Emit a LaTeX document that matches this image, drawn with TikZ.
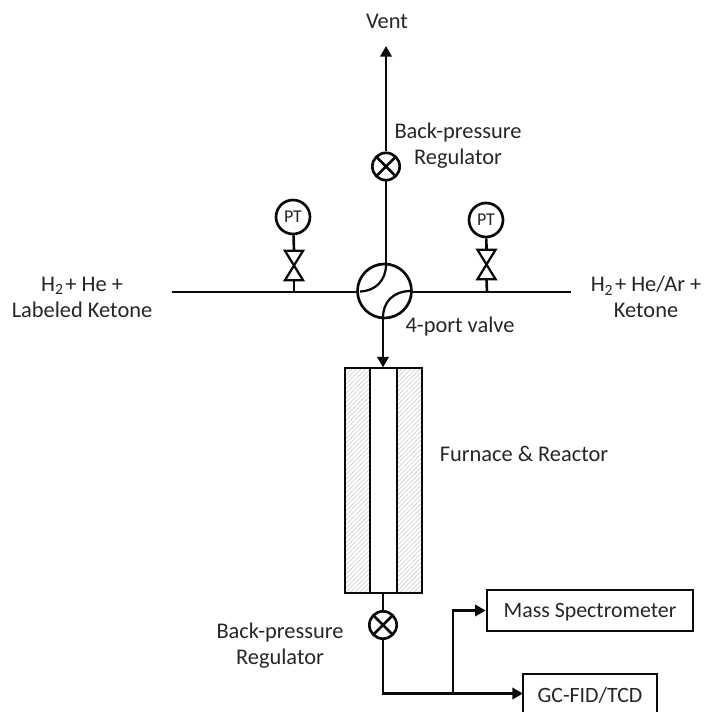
\documentclass[tikz,border=0pt]{standalone}
\usepackage{fontspec}
\setmainfont{Carlito}
\usetikzlibrary{arrows.meta,patterns.meta}
\definecolor{ink}{HTML}{0A0A0A}
\definecolor{txt}{HTML}{262626}
\tikzset{
  line/.style={draw=ink,line width=2pt},
  flow/.style={line,-{Triangle[length=8pt,width=8.5pt]}},
  label/.style={text=txt,font=\fontsize{16.8}{19.5}\selectfont,align=center,inner sep=0pt},
  gauge/.style={circle,line,fill=white,minimum size=25.5pt,inner sep=0pt,text=txt,font=\fontsize{13.5}{14}\selectfont},
  regulator/.style={circle,line,minimum size=20.5pt,inner sep=0pt,
    path picture={\draw[ink,line width=2pt] (path picture bounding box.north west)--(path picture bounding box.south east)
      (path picture bounding box.north east)--(path picture bounding box.south west);}},
  shutoff/.style={minimum width=13.5pt,minimum height=22pt,inner sep=0pt,outer sep=0pt},
  box/.style={line,inner sep=0pt,text=txt,text height=11pt,text depth=1.2pt,font=\fontsize{16.4}{18}\selectfont},
  hatched/.style={pattern={Lines[angle=45,distance=2.4pt,line width=.4pt]},pattern color=black!22},
}
\begin{document}
\begin{tikzpicture}[x=0.75pt,y=-0.75pt]
\useasboundingbox (0,0) rectangle (707,712);
\clip (0,0) rectangle (707,712);
% hatching and reactor
\path[hatched] (345,368) rectangle (370,593);
\path[hatched] (397,368) rectangle (422,593);
\node[line,minimum width=57.75pt,minimum height=168.75pt,inner sep=0pt,outer sep=0pt] (reactor) at (383.5,480.5) {};
\node[line,minimum width=20.25pt,minimum height=168.75pt,inner sep=0pt,outer sep=0pt] (tube) at (383.5,480.5) {};
% valve
\node[circle,line,minimum size=40.5pt,inner sep=0pt] (valve) at (384.5,291) {};
\draw[line,line width=1.7pt] (386,264.5) .. controls (386,280) and (376,291) .. (360,291.5);
\draw[line,line width=1.7pt] (383,317.5) .. controls (383,302) and (393,291.5) .. (410,291);
% upper regulator and vent
\coordinate (venttip) at (386,46);
\coordinate (valvetop) at (386,264);
\node[regulator] (bprup) at (386,166.5) {};
\draw[line] (valvetop) -- (bprup);
\draw[flow] (bprup) -- (venttip);
\node[label] (vent) at (387,21) {Vent};
\node[label] (bprupl) at (458,146) {Back-pressure\\Regulator};
% main lines
\coordinate (inl) at (172,292);
\coordinate (inr) at (571,292);
\coordinate (vl) at (357,292);
\coordinate (vr) at (412,292);
\draw[line] (inl) -- (vl);
\draw[line] (vr) -- (inr);
\node[label] (leftl) at (82,297) {H\textsubscript{2}\hspace{-2.5pt} + He +\\Labeled Ketone};
\node[label] (rightl) at (646,297) {H\textsubscript{2}\hspace{-2.5pt} + He/Ar +\\Ketone};
\node[label] (valvel) at (460,327) {4-port valve};
% left instrument
\node[gauge] (ptl) at (293,217) {PT};
\node[shutoff] (vvl) at (294,265.5) {};
\draw[line,line width=1.7pt,line join=miter] (vvl.north west) -- (vvl.north east) -- (vvl.south west) -- (vvl.south east) -- cycle;
\draw[line] (ptl) -- (vvl.north);
\coordinate (jl) at (294,292);
\draw[line] (vvl.south) -- (jl);
% right instrument
\node[gauge] (ptr) at (486,220) {PT};
\node[shutoff] (vvr) at (486.5,264.5) {};
\draw[line,line width=1.7pt,line join=miter] (vvr.north west) -- (vvr.north east) -- (vvr.south west) -- (vvr.south east) -- cycle;
\draw[line] (ptr) -- (vvr.north);
\coordinate (jr) at (487,292);
\draw[line] (vvr.south) -- (jr);
% down to reactor
\coordinate (vb) at (383,318);
\coordinate (rt) at (383,367.5);
\draw[flow] (vb) -- (rt);
\node[label] (furn) at (524,454) {Furnace \& Reactor};
% lower regulator
\coordinate (rb) at (383,593);
\node[regulator] (bprdn) at (383,625) {};
\draw[line] (rb) -- (bprdn);
\node[label] (bprdnl) at (280,646) {Back-pressure\\Regulator};
% analysers
\node[box,minimum width=154.5pt,minimum height=30.75pt] (ms) at (590,610.5) {Mass Spectrometer};
\path[line] (523,725) -- (523,674) -- (657,674) -- (657,725);
\node[text=txt,font=\fontsize{16.4}{18}\selectfont,inner sep=0pt] (gc) at (590,695) {GC-FID/TCD};
\coordinate (gcin) at (523,693.5);
\coordinate (bend) at (383,693.5);
\coordinate (branch) at (453,693.5);
\coordinate (msk) at (453,610.5);
\draw[flow] (bprdn) -- (bend) -- (gcin);
\draw[flow] (branch) -- (msk) -- (ms.west);
\end{tikzpicture}
\end{document}
